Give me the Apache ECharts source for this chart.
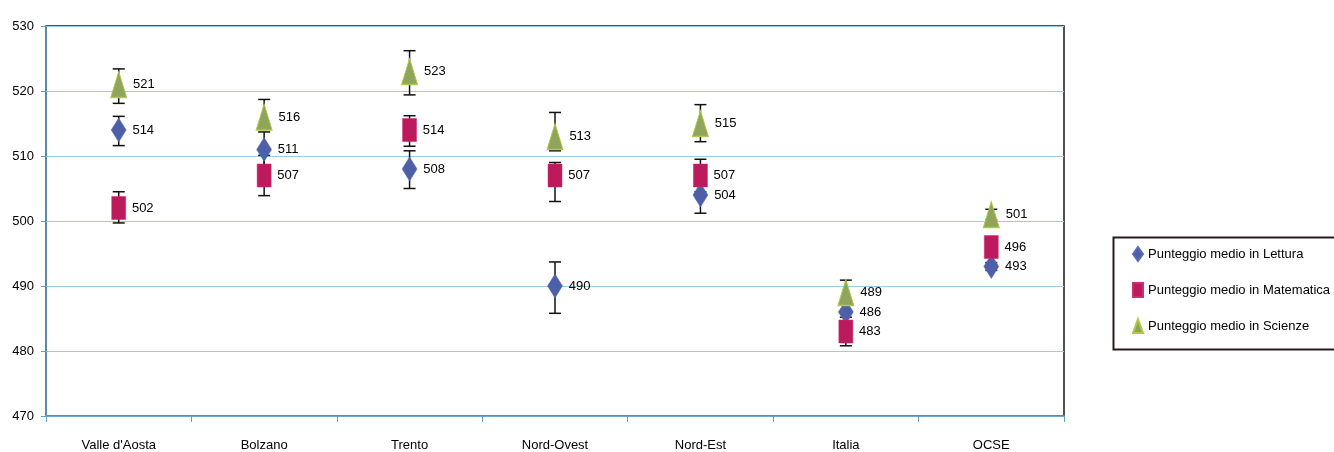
<!DOCTYPE html>
<html>
<head>
<meta charset="utf-8">
<script src="https://cdn.jsdelivr.net/npm/echarts@6/dist/echarts.min.js"></script>
<style>
  html, body { margin: 0; padding: 0; background: #ffffff; }
  #chart { width: 1334px; height: 452px; }
</style>
</head>
<body>
<div id="chart"></div>
<script>
// Categories (areas) and average scores with their confidence ranges
const categories = ["Valle d'Aosta", 'Bolzano', 'Trento', 'Nord-Ovest', 'Nord-Est', 'Italia', 'OCSE'];

const lettura     = [514, 511, 508, 490, 504, 486, 493];
const letturaLow  = [511.6, 507.7, 505.0, 485.8, 501.2, 484.5, 492.4];
const letturaHigh = [516.1, 513.7, 510.8, 493.7, 506.8, 487.5, 493.6];

const matematica     = [502, 507, 514, 507, 507, 483, 496];
const matematicaLow  = [499.7, 503.9, 511.5, 503.0, 504.5, 480.8, 495.3];
const matematicaHigh = [504.5, 510.1, 516.2, 509.0, 509.5, 485.2, 496.7];

const scienze     = [521, 516, 523, 513, 515, 489, 501];
const scienzeLow  = [518.1, 514.1, 519.4, 510.8, 512.2, 487.1, 500.2];
const scienzeHigh = [523.4, 518.7, 526.2, 516.7, 517.9, 490.9, 501.8];

const yTicks = [470, 480, 490, 500, 510, 520, 530];

const seriesNames = [
  'Punteggio medio in Lettura',
  'Punteggio medio in Matematica',
  'Punteggio medio in Scienze'
];

const FONT = '"Liberation Sans", Arial, sans-serif';
const AXIS_BLUE = '#5f9fc4';

// Vertical error bar with caps at both ends
function errorBar(params, api) {
  const i = api.value(0);
  const lo = api.coord([i, api.value(1)]);
  const hi = api.coord([i, api.value(2)]);
  const cap = 6;
  const style = { stroke: '#111', lineWidth: 1.5 };
  return {
    type: 'group',
    children: [
      { type: 'line', shape: { x1: lo[0], y1: lo[1], x2: hi[0], y2: hi[1] }, style },
      { type: 'line', shape: { x1: hi[0] - cap, y1: hi[1], x2: hi[0] + cap, y2: hi[1] }, style },
      { type: 'line', shape: { x1: lo[0] - cap, y1: lo[1], x2: lo[0] + cap, y2: lo[1] }, style }
    ]
  };
}

function barData(low, high) {
  return categories.map((c, i) => [i, low[i], high[i]]);
}

const pointLabel = {
  show: true,
  position: 'right',
  distance: 6,
  fontFamily: FONT,
  fontSize: 13,
  color: '#000',
  formatter: p => String(p.value)
};

const chart = echarts.init(document.getElementById('chart'), null, { renderer: 'canvas' });

chart.setOption({
  animation: false,
  backgroundColor: '#ffffff',
  grid: {
    left: 46, right: 270, top: 26, bottom: 34,
    show: true,
    borderColor: '#1a1a1a',
    borderWidth: 1.5,
    backgroundColor: '#ffffff'
  },
  xAxis: {
    type: 'category',
    data: categories,
    boundaryGap: true,
    axisLine: { lineStyle: { color: AXIS_BLUE, width: 1.5 } },
    axisTick: { show: true, alignWithLabel: false, length: 6, lineStyle: { color: AXIS_BLUE } },
    axisLabel: { fontFamily: FONT, fontSize: 13, color: '#000', margin: 23 },
    splitLine: { show: false }
  },
  yAxis: {
    type: 'value',
    min: yTicks[0],
    max: yTicks[yTicks.length - 1],
    interval: 10,
    axisLine: { show: true, lineStyle: { color: AXIS_BLUE, width: 1.5 } },
    axisTick: { show: true, length: 5, lineStyle: { color: AXIS_BLUE } },
    axisLabel: { fontFamily: FONT, fontSize: 13, color: '#000', margin: 12 },
    splitLine: { show: true, lineStyle: { color: '#9ccbe4', width: 1.2 } }
  },
  legend: {
    data: seriesNames,
    orient: 'vertical',
    left: 1127,
    top: 241,
    itemWidth: 10,
    itemHeight: 14,
    itemGap: 20,
    textStyle: { fontFamily: FONT, fontSize: 13, color: '#000', lineHeight: 16 },
    selectedMode: false
  },
  graphic: [
    {
      type: 'rect',
      left: 1111,
      top: 235,
      shape: { width: 240, height: 112 },
      style: { fill: 'none', stroke: '#2a1a1a', lineWidth: 2 },
      z: 0
    }
  ],
  series: [
    {
      type: 'custom', renderItem: errorBar, data: barData(letturaLow, letturaHigh),
      encode: { x: 0, y: [1, 2] }, z: 2, silent: true
    },
    {
      type: 'custom', renderItem: errorBar, data: barData(matematicaLow, matematicaHigh),
      encode: { x: 0, y: [1, 2] }, z: 2, silent: true
    },
    {
      type: 'custom', renderItem: errorBar, data: barData(scienzeLow, scienzeHigh),
      encode: { x: 0, y: [1, 2] }, z: 2, silent: true
    },
    {
      name: seriesNames[0], type: 'scatter', data: lettura,
      symbol: 'diamond', symbolSize: [15, 24],
      itemStyle: { color: '#4e5fa9', borderColor: '#5b6cb8', borderWidth: 0.5, opacity: 1 },
      label: pointLabel, z: 3
    },
    {
      name: seriesNames[1], type: 'scatter', data: matematica,
      symbol: 'rect', symbolSize: [14, 23],
      itemStyle: { color: '#bd1a5e', borderColor: '#c8306e', borderWidth: 0.5, opacity: 1 },
      label: pointLabel, z: 3
    },
    {
      name: seriesNames[2], type: 'scatter', data: scienze,
      symbol: 'triangle', symbolSize: [16, 26],
      itemStyle: { color: '#8fa65a', borderColor: '#b3c84a', borderWidth: 1, opacity: 1 },
      label: pointLabel, z: 3
    }
  ]
});
</script>
</body>
</html>
